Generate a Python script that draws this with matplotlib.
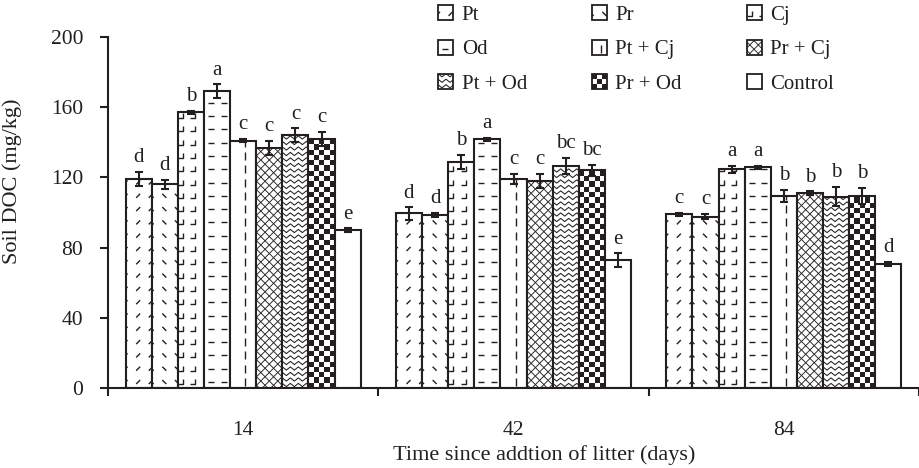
import numpy as np
import matplotlib
matplotlib.use("Agg")
import matplotlib.pyplot as plt
from matplotlib.patches import Rectangle
from matplotlib.collections import LineCollection, PatchCollection
from matplotlib.legend_handler import HandlerBase
from matplotlib.transforms import IdentityTransform

# data
days = ["14", "42", "84"]
treatments = ["Pt", "Pr", "Cj", "Od", "Pt + Cj", "Pr + Cj", "Pt + Od", "Pr + Od", "Control"]
patterns = ["fwd", "bwd", "corner", "hdash", "vdash", "cross", "wave", "checker", "none"]

doc_14 = [119, 116, 157, 169, 141, 137, 144, 142, 90]
err_14 = [4, 2.5, 1, 4, 1, 4, 4, 4, 1]
sig_14 = ["d", "d", "b", "a", "c", "c", "c", "c", "e"]

doc_42 = [99.5, 98.6, 129, 141.7, 119, 118, 126.5, 124, 72.7]
err_42 = [3.5, 1, 4, 1, 3, 4, 4.5, 3, 4]
sig_42 = ["d", "d", "b", "a", "c", "c", "bc", "bc", "e"]

doc_84 = [99, 97.6, 124.6, 125.7, 109.4, 111.1, 109, 109.4, 70.8]
err_84 = [1, 1.5, 2, 1, 3.5, 1, 5.5, 4.5, 1]
sig_84 = ["c", "c", "a", "a", "b", "b", "b", "b", "d"]

ink = "#231f20"
plt.rcParams["font.family"] = ["Liberation Serif", "DejaVu Serif"]
plt.rcParams["font.size"] = 15


def pattern_artists(kind, x0, y0, w, h, u, trans):
    """Fill pattern for a box (x0, y0, w, h); u = size of one pixel in box units."""
    segs = []
    lw = 1.0
    if kind in ("fwd", "bwd"):
        sgn = 1 if kind == "fwd" else -1
        for cx in np.arange(x0, x0 + w + 0.1 * u, 12.6 * u):
            for cy in np.arange(y0 + 6 * u, y0 + h, 13.3 * u):
                d = 2.0 * u
                segs.append([(cx - d, cy - sgn * d), (cx + d, cy + sgn * d)])
    elif kind == "corner":
        for cx in np.arange(x0 + 5 * u, x0 + w + 5 * u, 12.6 * u):
            for cy in np.arange(y0 + 4 * u, y0 + h, 13.3 * u):
                segs.append([(cx - 5 * u, cy), (cx, cy), (cx, cy + 5 * u)])
    elif kind == "hdash":
        for cx in np.arange(x0 + 7 * u, x0 + w + 3 * u, 12.6 * u):
            for cy in np.arange(y0 + 6 * u, y0 + h, 13.3 * u):
                segs.append([(cx - 3 * u, cy), (cx + 3 * u, cy)])
    elif kind == "vdash":
        cx = x0 + w / 2 + 2 * u
        for cy in np.arange(y0 + 2 * u, y0 + h, 13.3 * u):
            segs.append([(cx, cy), (cx, cy + 8 * u)])
    elif kind == "cross":
        step = 8.5 * u
        for s in np.arange(-h, w + step, step):
            segs.append([(x0 + s, y0), (x0 + s + h, y0 + h)])
            segs.append([(x0 + w - s, y0), (x0 + w - s - h, y0 + h)])
        lw = 0.65
    elif kind == "wave":
        per, amp = 8.0 * u, 1.6 * u
        xs = np.arange(x0 - per, x0 + w + per, per / 2)
        for cy in np.arange(y0 + 3 * u, y0 + h, 5.5 * u):
            ys = cy + amp * np.where(np.arange(len(xs)) % 2 == 0, 1, -1)
            segs.append(list(zip(xs, ys)))
        lw = 0.75
    elif kind == "checker":
        sq = 5.3 * u
        boxes = []
        for i, cx in enumerate(np.arange(x0, x0 + w, sq)):
            for j, cy in enumerate(np.arange(y0, y0 + h, sq)):
                if (i + j) % 2 == 0:
                    boxes.append(Rectangle((cx, cy), sq, sq))
        if boxes:
            return [PatchCollection(boxes, facecolor=ink, edgecolor="none",
                                    transform=trans)]
        return []
    if not segs:
        return []
    return [LineCollection(segs, colors=ink, linewidths=lw, transform=trans)]


class PatternHandler(HandlerBase):
    def create_artists(self, legend, orig_handle, xdescent, ydescent,
                       width, height, fontsize, trans):
        x0, y0 = -xdescent, -ydescent
        box = Rectangle((x0, y0), width, height, facecolor="white",
                        edgecolor=ink, linewidth=1.3, transform=trans)
        arts = [box]
        for a in pattern_artists(orig_handle.kind, x0, y0, width, height, 0.72, trans):
            a.set_clip_path(box)
            arts.append(a)
        return arts


fig = plt.figure(figsize=(9.19, 4.68), dpi=100)
ax = fig.add_axes([108 / 919, 80 / 468, 811 / 919, 351 / 468])
ax.set_xlim(-0.5, 2.5)
ax.set_ylim(0, 200)

values = np.array([doc_14, doc_42, doc_84])
errors = np.array([err_14, err_42, err_84])
letters = [sig_14, sig_42, sig_84]

n = len(treatments)
width = 0.87 / n
x = np.arange(len(days))

for k in range(n):
    pos = x + (k - (n - 1) / 2) * width
    bars = ax.bar(pos, values[:, k], width, color="white", edgecolor=ink,
                  linewidth=1.5, zorder=2)
    for bar in bars:
        (px0, py0), (px1, py1) = ax.transData.transform(
            [(bar.get_x(), 0), (bar.get_x() + bar.get_width(), bar.get_height())])
        for a in pattern_artists(patterns[k], px0, py0, px1 - px0, py1 - py0,
                                 1.0, IdentityTransform()):
            a.set_zorder(2.5)
            ax.add_artist(a)
            a.set_clip_path(bar)
    ax.errorbar(pos, values[:, k], yerr=errors[:, k], fmt="none", ecolor=ink,
                elinewidth=1.5, capsize=3, capthick=1.5, zorder=4)
    for g in range(len(days)):
        ax.annotate(letters[g][k], (pos[g], values[g, k] + errors[g, k]),
                    xytext=(0, 7), textcoords="offset points",
                    ha="center", va="baseline", fontsize=15, color=ink)

# axes styling
for side in ("top", "right"):
    ax.spines[side].set_visible(False)
for side in ("left", "bottom"):
    ax.spines[side].set_linewidth(1.5)
    ax.spines[side].set_color(ink)

ax.set_yticks(np.arange(0, 201, 40))
ax.tick_params(axis="y", direction="out", length=6, width=1.5, pad=12,
               color=ink, labelcolor=ink, labelsize=15.5)
ax.set_xticks(x)
ax.set_xticklabels(days)
ax.set_xticks(np.arange(-0.5, 2.6, 1), minor=True)
ax.tick_params(axis="x", which="major", length=0, pad=24, labelcolor=ink,
               labelsize=15.5)
ax.tick_params(axis="x", which="minor", direction="out", length=6, width=1.5,
               color=ink)

ax.set_ylabel("Soil DOC (mg/kg)", fontsize=16, color=ink)
ax.yaxis.set_label_coords(-0.106, 0.59)
ax.set_xlabel("Time since addtion of litter (days)", fontsize=16, color=ink)
ax.xaxis.set_label_coords(0.538, -0.19)
ax.xaxis.label.set_va("center")

# legend with the same fill patterns, filled row by row
handles = []
for kind in patterns:
    proxy = Rectangle((0, 0), 1, 1)
    proxy.kind = kind
    handles.append(proxy)
order = [0, 3, 6, 1, 4, 7, 2, 5, 8]
fig.legend([handles[i] for i in order], [treatments[i] for i in order],
           handler_map={Rectangle: PatternHandler()},
           ncol=3, loc="upper left", bbox_to_anchor=(438 / 919, 1 - 5 / 468),
           frameon=False, fontsize=15, handlelength=0.72, handleheight=0.72,
           handletextpad=0.42, columnspacing=3.1, labelspacing=0.72,
           borderpad=0, borderaxespad=0, labelcolor=ink)

fig.savefig("out.png", dpi=100)
